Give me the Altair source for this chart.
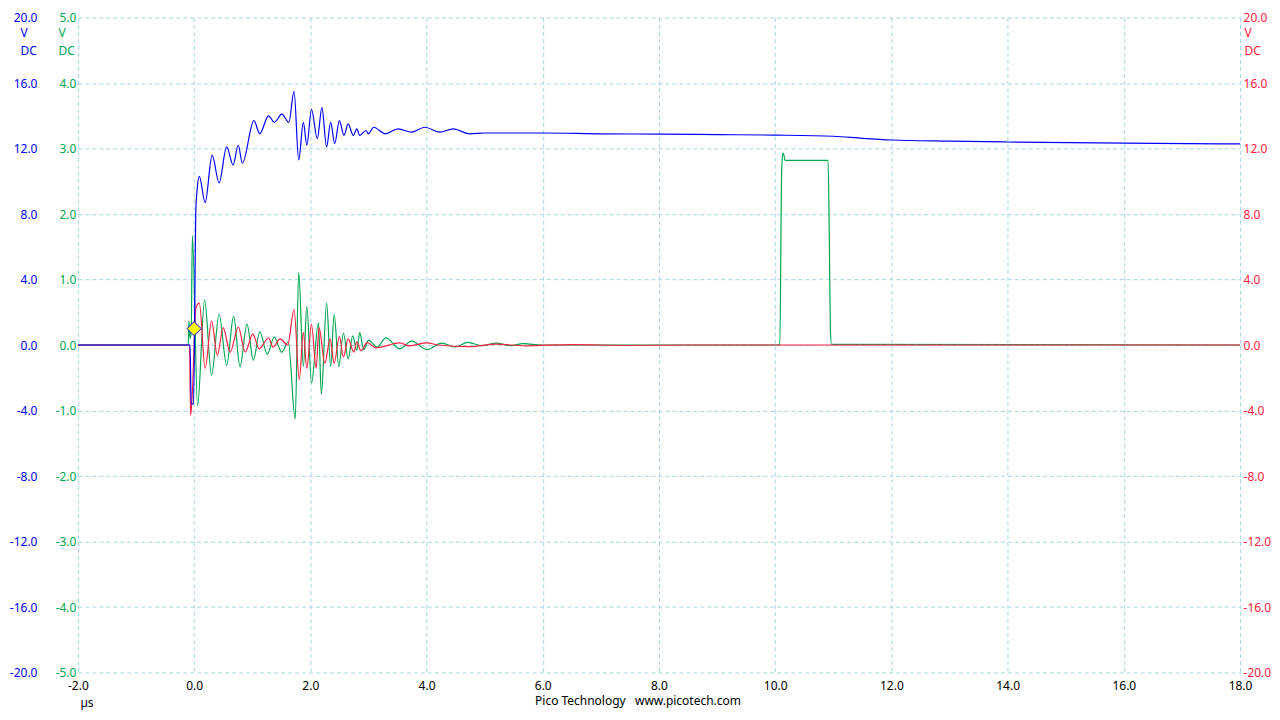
import altair as alt
import pandas as pd

# ---- data (time in µs, volts) ----
blue_t = [-2.0, -0.07, -0.05, -0.01, 0.03, 0.05, 0.09, 0.19, 0.31, 0.43, 0.56, 0.67, 0.76, 0.83,
          1.03, 1.13, 1.28, 1.38, 1.51, 1.63, 1.72, 1.80, 1.88, 1.94, 2.02, 2.12, 2.20, 2.28,
          2.35, 2.42, 2.50, 2.58, 2.65, 2.74, 2.80, 2.85, 2.96, 3.00, 3.09, 3.29, 3.51, 3.74,
          3.97, 4.23, 4.46, 4.74, 5.0, 6.0, 7.0, 8.0, 9.0, 10.0, 11.0, 11.5, 12.0, 13.0, 14.0,
          16.0, 18.0]
blue_v = [0.0, 0.0, -3.6, -3.6, 8.2, 9.4, 10.3, 8.7, 11.6, 9.9, 12.1, 11.0, 12.2, 11.1,
          13.7, 12.9, 14.0, 13.6, 14.1, 13.6, 15.5, 11.3, 13.6, 12.2, 14.4, 12.6, 14.5, 12.1,
          13.6, 12.3, 13.7, 12.8, 13.5, 12.8, 13.2, 12.8, 13.1, 12.9, 13.3, 12.9, 13.2, 13.0,
          13.3, 13.0, 13.2, 12.9, 12.95, 12.95, 12.9, 12.88, 12.85, 12.82, 12.75, 12.62, 12.52,
          12.45, 12.4, 12.33, 12.28]

green_t = [-2.0, -0.10, -0.09, -0.07, -0.05, -0.03, 0.06, 0.18, 0.30, 0.43, 0.56, 0.68, 0.79,
           0.91, 1.02, 1.13, 1.26, 1.38, 1.51, 1.62, 1.74, 1.80, 1.88, 1.94, 2.02, 2.14, 2.19,
           2.28, 2.35, 2.41, 2.49, 2.57, 2.65, 2.73, 2.80, 2.85, 2.92, 3.00, 3.15, 3.30, 3.54,
           3.74, 4.01, 4.26, 4.49, 4.71, 4.95, 5.20, 5.45, 5.66, 6.0, 10.08, 10.11, 10.13,
           10.15, 10.17, 10.91, 10.93, 10.95, 10.97, 18.0]
green_v = [0.0, 0.0, 0.37, 0.1, 0.2, 1.67, -0.93, 0.69, -0.46, 0.47, -0.31, 0.44, -0.33,
           0.32, -0.23, 0.20, -0.14, 0.12, -0.11, 0.05, -1.13, 1.11, -0.33, 0.59, -0.58, 0.34,
           -0.75, 0.64, -0.33, 0.47, -0.33, 0.18, -0.21, 0.14, -0.08, 0.19, -0.07, 0.07, -0.03,
           0.11, -0.06, 0.06, -0.07, 0.03, -0.03, 0.04, -0.01, 0.03, -0.01, 0.02, 0.0, 0.0,
           2.6, 2.93, 2.90, 2.82, 2.82, 1.76, 0.22, 0.01, 0.0]

red_t = [-2.0, -0.08, -0.06, -0.03, 0.03, 0.09, 0.19, 0.30, 0.40, 0.50, 0.62, 0.76, 0.88,
         1.01, 1.12, 1.28, 1.36, 1.48, 1.61, 1.72, 1.81, 1.88, 1.94, 2.02, 2.10, 2.15, 2.25,
         2.34, 2.41, 2.50, 2.57, 2.65, 2.75, 2.80, 2.87, 2.98, 3.13, 3.54, 3.70, 4.01, 4.20,
         4.74, 5.20, 5.70, 6.50, 7.50, 8.5, 18.0]
red_v = [0.0, 0.0, -4.3, -2.9, 2.26, 2.56, -1.42, 1.46, -0.63, 1.06, -0.43, 1.10, -0.43,
         0.67, -0.23, 0.43, -0.13, 0.37, 0.0, 2.16, -2.12, 0.77, -1.42, 1.27, -1.42, 1.06,
         -1.12, 0.37, -1.12, 0.51, -0.73, 0.37, -0.43, 0.2, -0.35, 0.15, -0.17, 0.13, -0.05,
         0.13, 0.0, -0.1, 0.05, -0.05, 0.03, -0.03, 0.0, 0.0]

trigger_t = [0.0]
trigger_v = [1.0]

x_ticks = [-2.0, 0.0, 2.0, 4.0, 6.0, 8.0, 10.0, 12.0, 14.0, 16.0, 18.0]
blue_ticks = [-20, -16, -12, -8, -4, 0, 4, 8, 12, 16, 20]
green_ticks = [-5, -4, -3, -2, -1, 0, 1, 2, 3, 4, 5]
red_ticks = [-20, -16, -12, -8, -4, 0, 4, 8, 12, 16, 20]

footer_text = "Pico Technology\u00a0\u00a0\u00a0www.picotech.com"

# ---- styles ----
BLUE = "#0000ff"
GREEN = "#00a651"
RED = "#ff2040"
GRID = "#a9d6e2"
FONT = "Noto Sans"
LBL = "(datum.value < 0 ? '-' : '') + format(abs(datum.value), '.1f')"

x_axis = alt.Axis(values=x_ticks, labelExpr=LBL, grid=True, gridColor=GRID, gridDash=[4, 3],
                  gridWidth=1, domain=False, ticks=False, tickSize=0, labelPadding=8,
                  labelFlush=False, labelOverlap=False, labelColor="black", labelFont=FONT,
                  labelFontSize=12, title="µs", titleX=2, titleY=30, titleAlign="left",
                  titleBaseline="middle", titleAngle=0, titleFont=FONT, titleFontSize=12,
                  titleFontWeight="normal", titleColor="black")
x_enc = alt.X("t:Q", scale=alt.Scale(domain=[-2, 18], nice=False, zero=False), axis=x_axis)


def y_axis(orient, ticks, color, pad, tx, grid):
    return alt.Axis(orient=orient, values=ticks, labelExpr=LBL, grid=grid, gridColor=GRID,
                    gridDash=[4, 3], gridWidth=1, domain=False, ticks=False, tickSize=0,
                    labelPadding=pad, labelColor=color, labelFont=FONT, labelFontSize=12,
                    labelFlush=False, labelOverlap=False, title=["V", "DC"], titleAngle=0,
                    titleX=tx, titleY=10, titleAlign="left", titleBaseline="top",
                    titleLineHeight=18, titleColor=color, titleFont=FONT, titleFontSize=12,
                    titleFontWeight="normal")


blue_y = alt.Y("v:Q", scale=alt.Scale(domain=[-20, 20], nice=False, zero=False),
               axis=y_axis("left", blue_ticks, BLUE, 41, -58, True))
green_y = alt.Y("v:Q", scale=alt.Scale(domain=[-5, 5], nice=False, zero=False),
                axis=y_axis("left", green_ticks, GREEN, 2, -20, False))
red_y = alt.Y("v:Q", scale=alt.Scale(domain=[-20, 20], nice=False, zero=False),
              axis=y_axis("right", red_ticks, RED, 3, 4, False))

green_df = pd.DataFrame({"t": green_t, "v": green_v})
red_df = pd.DataFrame({"t": red_t, "v": red_v})
blue_df = pd.DataFrame({"t": blue_t, "v": blue_v})
trig_df = pd.DataFrame({"t": trigger_t, "v": trigger_v})

green = alt.Chart(green_df).mark_line(color=GREEN, strokeWidth=1.2,
                                      interpolate="monotone").encode(x=x_enc, y=green_y)
red = alt.Chart(red_df).mark_line(color=RED, strokeWidth=1.2,
                                  interpolate="monotone").encode(x=x_enc, y=red_y)
blue_line = alt.Chart(blue_df).mark_line(color=BLUE, strokeWidth=1.2,
                                         interpolate="monotone").encode(x=x_enc, y=blue_y)
diamond = alt.Chart(trig_df).mark_point(shape="diamond", filled=True, fill="#ffff00",
                                        stroke=BLUE, strokeWidth=1, size=200,
                                        opacity=1).encode(x=x_enc, y=blue_y)
blue = alt.layer(blue_line, diamond)

footer = alt.Chart(pd.DataFrame({"k": [0]})).mark_text(
    text=footer_text, font=FONT, fontSize=12, color="black", align="center",
    baseline="middle").encode(x=alt.value(561), y=alt.value(685))

chart = alt.layer(green, red, blue, footer).resolve_scale(y="independent").properties(
    width=1164, height=656,
    padding={"left": 70, "top": 9, "right": 32, "bottom": 38},
    autosize=alt.AutoSizeParams(type="none"),
).configure_view(strokeWidth=0)

chart.save("out.html", embed_options={"renderer": "svg", "actions": False})
